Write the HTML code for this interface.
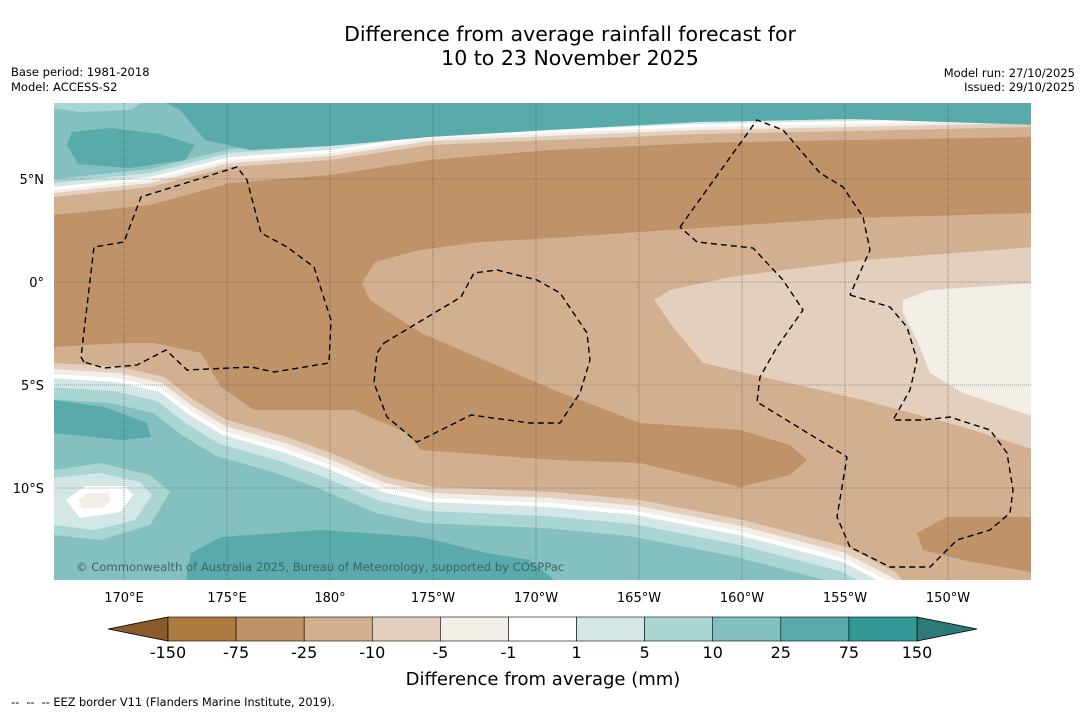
<!DOCTYPE html>
<html><head><meta charset="utf-8">
<style>
html,body{margin:0;padding:0;background:#fff;}
body{width:1085px;height:713px;overflow:hidden;font-family:"DejaVu Sans","Liberation Sans",sans-serif;}
svg text{font-family:"DejaVu Sans","Liberation Sans",sans-serif;}
</style></head>
<body>
<svg id="chart" width="1085" height="713" xmlns="http://www.w3.org/2000/svg">
<defs><clipPath id="mapclip"><rect x="54" y="103" width="977" height="477"/></clipPath></defs>
<text x="570" y="41" font-size="20.5" text-anchor="middle">Difference from average rainfall forecast for</text>
<text x="570" y="65" font-size="20.5" text-anchor="middle">10 to 23 November 2025</text>
<text x="11" y="76" font-size="11.5">Base period: 1981-2018</text>
<text x="11" y="91" font-size="11.5">Model: ACCESS-S2</text>
<text x="1075" y="77" font-size="11.5" text-anchor="end">Model run: 27/10/2025</text>
<text x="1075" y="91" font-size="11.5" text-anchor="end">Issued: 29/10/2025</text>
<g id="map" clip-path="url(#mapclip)"></g>
<g id="axes"></g>
<g id="cbar"></g>
<text x="543" y="685" font-size="18" text-anchor="middle">Difference from average (mm)</text>
<text x="11" y="706" font-size="11.3" style="white-space:pre" xml:space="preserve">--  --  -- EEZ border V11 (Flanders Marine Institute, 2019).</text>
</svg>
<script>
// colour scale data
const levels = [-150,-75,-25,-10,-5,-1,1,5,10,25,75,150];
const levelColors = ["#ad7a40","#bf9268","#d2b08f","#e3cfbd","#f3eee8","#ffffff","#d3e8e6","#a9d5d3","#84c0bf","#58aaab","#339997"];
const extLow = "#8a5a2b", extHigh = "#2b7a78";
// axis ticks
const lonTicks = [170,175,180,-175,-170,-165,-160,-155,-150];
const lonLabels = ["170°E","175°E","180°","175°W","170°W","165°W","160°W","155°W","150°W"];
const latTicks = [5,0,-5,-10];
const latLabels = ["5°N","0°","5°S","10°S"];

const NS="http://www.w3.org/2000/svg";
function mk(tag,attrs,parent){const e=document.createElementNS(NS,tag);for(const k in attrs)e.setAttribute(k,attrs[k]);parent.appendChild(e);return e;}
function lonX(l){const e=l<0?360+l:l;return 124+(e-170)*20.6;}
function latY(l){return 282-l*20.6;}
function pts(a){return a.map(p=>p[0]+","+p[1]).join(" ");}

const map=document.getElementById('map');
let bg=mk('rect',{x:54,y:103,width:977,height:477,fill:"#d2b08f"},map);


const topCurve=[[54,197],[150,187],[230,167],[330,160],[430,145],[550,140],[700,134],[850,131],[1031,127]];
const topBands=[[0,"#e3cfbd"],[4,"#f3eee8"],[7,"#ffffff"],[10,"#d3e8e6"],[14,"#a9d5d3"],[18,"#84c0bf"]];
topBands.forEach(b=>{
  const c=topCurve.map(p=>[p[0],p[1]-b[0]]);
  const poly=[[40,90]].concat([[40,c[0][1]]],c,[[1045,c[c.length-1][1]],[1045,90]]);
  const e=mk('polygon',{points:pts(poly),fill:b[1]},map);
  
  
});
let tb=mk('polygon',{points:pts([[150,95],[1040,95],[1040,125],[850,119],[700,122],[550,130],[430,137],[330,146],[250,150],[205,140],[180,110],[150,95]]),fill:"#58aaab"},map);


let tbl=mk('polygon',{points:pts([[67,145],[72,132],[110,128],[160,134],[195,145],[185,160],[130,168],[78,164]]),fill:"#58aaab"},map);


let tcl=mk('polygon',{points:pts([[50,98],[150,98],[130,110],[80,112],[50,108]]),fill:"#a9d5d3"},map);


const botCurve=[[54,363],[121,367],[164,377],[194,400],[227,420],[287,437],[331,453],[387,477],[434,487],[554,492],[640,500],[743,520],[847,547],[897,573],[915,600]];
const botBands=[[0,"#e3cfbd"],[6,"#f3eee8"],[11,"#ffffff"],[15,"#d3e8e6"],[24,"#a9d5d3"],[36,"#84c0bf"]];
botBands.forEach(b=>{
  const c=botCurve.map(p=>[p[0]-b[0]*0.3,p[1]+b[0]]);
  const poly=[[40,c[0][1]]].concat(c,[[c[c.length-1][0],600],[40,600]]);
  const e=mk('polygon',{points:pts(poly),fill:b[1]},map);
  
  
});
[[ [54,400],[104,407],[147,423],[151,437],[121,440],[54,433] ],
 [ [191,553],[221,537],[321,530],[421,537],[487,553],[530,560],[560,585],[185,585] ]].forEach(p=>{
  const e=mk('polygon',{points:pts(p),fill:"#58aaab"},map);
  
  
});
[["#a9d5d3",[[54,470],[100,463],[150,475],[170,492],[150,525],[100,540],[54,535]]],
 ["#d3e8e6",[[54,478],[100,473],[140,482],[152,495],[135,520],[95,530],[54,525]]],
 ["#ffffff",[[66,500],[85,486],[125,486],[133,495],[120,512],[80,518]]],
 ["#f3eee8",[[78,500],[88,493],[108,493],[111,500],[103,508],[82,508]]]].forEach(s=>{
  const e=mk('polygon',{points:pts(s[1]),fill:s[0]},map);
  
  
});
let lt=mk('polygon',{points:pts([[654,300],[670,290],[730,277],[863,260],[1035,247],[1035,450],[963,427],[863,400],[763,377],[703,363],[673,327]]),fill:"#e3cfbd"},map);


let wr=mk('polygon',{points:pts([[903,300],[930,290],[1035,283],[1035,417],[963,393],[930,373],[917,340],[903,313]]),fill:"#f3eee8"},map);


let br=mk('polygon',{points:pts([[54,215],[150,205],[230,183],[330,175],[430,160],[550,150],[700,143],[850,140],[1035,137],[1035,213],[850,218],[640,232],[554,238],[480,242],[420,250],[375,262],[362,283],[370,300],[421,333],[554,390],[640,423],[740,430],[790,445],[807,460],[790,475],[740,487],[640,463],[554,460],[421,450],[407,433],[354,410],[254,410],[221,387],[201,353],[154,343],[121,343],[54,347]]),fill:"#bf9268"},map);


let br2=mk('polygon',{points:pts([[917,533],[947,517],[1035,517],[1035,573],[963,560],[923,550]]),fill:"#bf9268"},map);


lonTicks.forEach(l=>{const x=lonX(l);const e=mk('line',{x1:x,y1:103,x2:x,y2:580,stroke:"#555","stroke-width":0.6,"stroke-dasharray":"1,1"},map);

});
latTicks.forEach(l=>{const y=latY(l);const e=mk('line',{x1:54,y1:y,x2:1031,y2:y,stroke:"#555","stroke-width":0.6,"stroke-dasharray":"1,1"},map);

});
[[[84,362],[81,357],[94,247],[124,242],[141,197],[237,167],[247,180],[261,233],[287,247],[314,267],[331,320],[329,363],[274,372],[251,367],[187,370],[166,350],[137,365],[104,368],[84,362]],
 [[384,343],[461,297],[474,273],[497,270],[537,280],[560,293],[587,333],[590,360],[580,393],[560,423],[530,423],[471,415],[417,442],[387,417],[374,383],[377,353],[384,343]],
 [[680,227],[757,120],[783,130],[820,173],[843,187],[863,217],[870,250],[850,295]],
 [[850,295],[890,307],[907,327],[917,360],[910,390],[893,420],[923,420],[950,417],[990,430],[1007,453],[1013,490],[1010,513],[990,530],[957,540],[930,567],[890,567],[850,547],[837,517],[847,457],[757,402],[760,377],[777,347],[803,310],[783,280],[753,248],[697,242],[680,227]]].forEach(p=>{
  const e=mk('polyline',{points:pts(p),fill:"none",stroke:"#000","stroke-width":1.4,"stroke-dasharray":"6,4"},map);
  
  
});
let cp=mk('text',{x:76,y:571,"font-size":11.6,fill:"#3f6464"},map);
cp.textContent="© Commonwealth of Australia 2025, Bureau of Meteorology, supported by COSPPac";


const axes=document.getElementById('axes');
lonTicks.forEach((l,i)=>{const t=mk('text',{x:lonX(l),y:602,"font-size":13,"text-anchor":"middle"},axes);t.textContent=lonLabels[i];

});
latTicks.forEach((l,i)=>{const t=mk('text',{x:44,y:latY(l)+5,"font-size":13,"text-anchor":"end"},axes);t.textContent=latLabels[i];

});
const cb=document.getElementById('cbar');
const cx0=168,cx1=917,cy=617,ch=24;
const w=(cx1-cx0)/levelColors.length;
let el=mk('polygon',{points:pts([[cx0,cy],[108,cy+ch/2],[cx0,cy+ch]]),fill:extLow,stroke:"#000","stroke-width":0.8},cb);


let eh=mk('polygon',{points:pts([[cx1,cy],[977,cy+ch/2],[cx1,cy+ch]]),fill:extHigh,stroke:"#000","stroke-width":0.8},cb);


levelColors.forEach((c,i)=>{const r=mk('rect',{x:cx0+i*w,y:cy,width:w,height:ch,fill:c,stroke:"#000","stroke-width":0.6},cb);

});
levels.forEach((v,i)=>{const t=mk('text',{x:cx0+i*w,y:658,"font-size":16,"text-anchor":"middle"},cb);t.textContent=String(v);

});
</script>
</body></html>
